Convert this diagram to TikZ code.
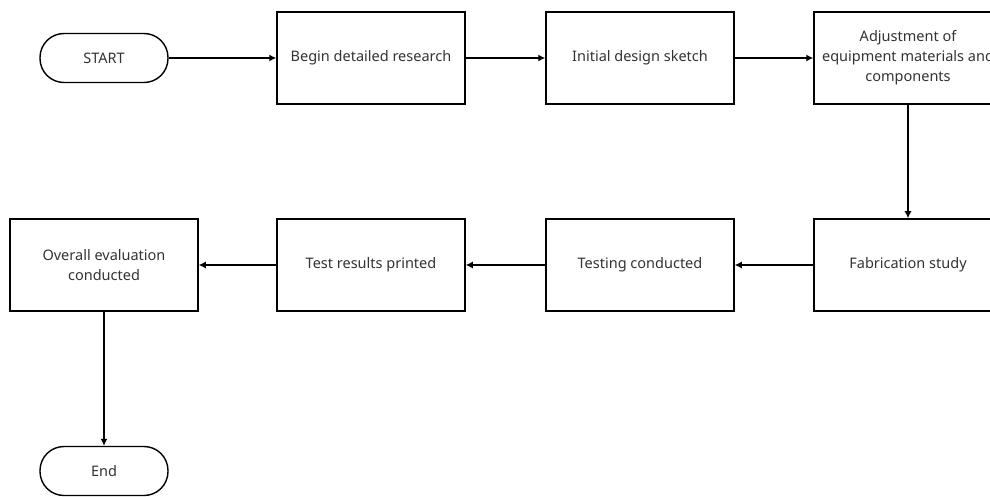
\documentclass[tikz,border=0pt]{standalone}
\usepackage{fontspec}
\setmainfont{Noto Sans}
\usetikzlibrary{arrows.meta, positioning}
\tikzset{
  stepbox/.style={draw, line width=1.5pt, minimum width=188pt, minimum height=92pt,
    align=center, text=black!80, font=\fontsize{14.5}{20}\selectfont},
  termbox/.style={draw, line width=1.4pt, rounded corners=24pt, minimum width=128pt,
    minimum height=49pt, text=black!80, font=\fontsize{14.5}{18}\selectfont},
  flow/.style={line width=1.2pt, -{Latex[length=7pt,width=7pt]}}
}
\begin{document}
\begin{tikzpicture}[x=1pt, y=-1pt]
  \clip (0,0) rectangle (990,497);
  \fill[white] (0,0) rectangle (990,497);

  % top row
  \node[termbox] (start) at (104,58) {START};
  \node[stepbox] (research) at (371,58) {Begin detailed research};
  \node[stepbox] (sketch) at (640,58) {Initial design sketch};
  \node[stepbox] (adjust) at (908,58) {Adjustment of\\ equipment materials and\\ components};

  % bottom row, running back to the left
  \node[stepbox] (fab) at (908,265) {Fabrication study};
  \node[stepbox] (testing) at (640,265) {Testing conducted};
  \node[stepbox] (results) at (371,265) {Test results printed};
  \node[stepbox] (evaluation) at (104,265) {Overall evaluation\\ conducted};
  \node[termbox] (finish) at (104,471) {End};

  \draw[flow] (start) -- (research);
  \draw[flow] (research) -- (sketch);
  \draw[flow] (sketch) -- (adjust);
  \draw[flow] (adjust) -- (fab);
  \draw[flow] (fab) -- (testing);
  \draw[flow] (testing) -- (results);
  \draw[flow] (results) -- (evaluation);
  \draw[flow] (evaluation) -- (finish);
\end{tikzpicture}
\end{document}
